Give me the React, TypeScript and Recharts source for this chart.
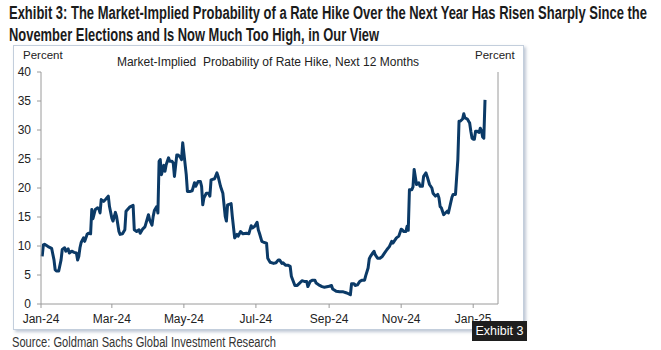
import * as React from "react";
import { LineChart, Line, XAxis, YAxis } from "recharts";

// market-implied probability of a hike over the next 12 months, percent
const DATES = [
  "2024-01-02", "2024-01-03", "2024-01-04", "2024-01-07", "2024-01-10", "2024-01-12", "2024-01-13", "2024-01-14", "2024-01-16",
  "2024-01-18", "2024-01-19", "2024-01-21", "2024-01-22", "2024-01-24", "2024-01-25", "2024-01-27", "2024-01-29", "2024-01-31",
  "2024-02-01", "2024-02-02", "2024-02-03", "2024-02-04", "2024-02-06", "2024-02-07", "2024-02-09", "2024-02-10", "2024-02-12",
  "2024-02-13", "2024-02-14", "2024-02-16", "2024-02-18", "2024-02-19", "2024-02-20", "2024-02-21", "2024-02-23", "2024-02-25",
  "2024-02-27", "2024-02-28",
  "2024-03-01", "2024-03-02", "2024-03-04", "2024-03-05", "2024-03-07", "2024-03-08", "2024-03-10", "2024-03-12", "2024-03-13",
  "2024-03-16", "2024-03-19", "2024-03-20", "2024-03-22", "2024-03-24", "2024-03-25", "2024-03-27", "2024-03-29", "2024-03-30",
  "2024-04-01", "2024-04-02", "2024-04-04", "2024-04-05", "2024-04-06", "2024-04-08", "2024-04-09", "2024-04-10", "2024-04-11",
  "2024-04-12", "2024-04-14", "2024-04-15", "2024-04-16", "2024-04-18", "2024-04-19", "2024-04-21", "2024-04-22", "2024-04-23",
  "2024-04-25", "2024-04-26", "2024-04-28", "2024-04-29", "2024-04-30",
  "2024-05-01", "2024-05-03", "2024-05-04", "2024-05-06", "2024-05-08", "2024-05-10", "2024-05-11", "2024-05-13", "2024-05-15",
  "2024-05-16", "2024-05-17", "2024-05-18", "2024-05-20", "2024-05-22", "2024-05-23", "2024-05-24", "2024-05-27", "2024-05-29",
  "2024-05-30",
  "2024-06-01", "2024-06-03", "2024-06-05", "2024-06-06", "2024-06-07", "2024-06-10", "2024-06-11", "2024-06-13", "2024-06-15",
  "2024-06-16", "2024-06-18", "2024-06-20", "2024-06-23", "2024-06-25", "2024-06-27", "2024-06-28", "2024-06-30",
  "2024-07-02", "2024-07-03", "2024-07-04", "2024-07-06", "2024-07-08", "2024-07-10", "2024-07-11", "2024-07-13", "2024-07-16",
  "2024-07-18", "2024-07-20", "2024-07-21", "2024-07-23", "2024-07-24", "2024-07-26", "2024-07-28", "2024-07-30", "2024-07-31",
  "2024-08-03", "2024-08-05", "2024-08-07", "2024-08-09", "2024-08-11", "2024-08-13", "2024-08-14", "2024-08-16", "2024-08-18",
  "2024-08-20", "2024-08-21", "2024-08-24", "2024-08-26", "2024-08-28", "2024-08-31",
  "2024-09-03", "2024-09-04", "2024-09-07", "2024-09-10", "2024-09-13", "2024-09-16", "2024-09-19", "2024-09-20", "2024-09-22",
  "2024-09-23", "2024-09-25", "2024-09-27", "2024-09-29",
  "2024-10-01", "2024-10-02", "2024-10-04", "2024-10-05", "2024-10-06", "2024-10-08", "2024-10-09", "2024-10-10", "2024-10-12",
  "2024-10-14", "2024-10-16", "2024-10-18", "2024-10-20", "2024-10-22", "2024-10-24", "2024-10-25", "2024-10-26", "2024-10-28",
  "2024-10-30",
  "2024-11-01", "2024-11-02", "2024-11-03", "2024-11-05", "2024-11-06", "2024-11-07", "2024-11-08", "2024-11-10", "2024-11-11",
  "2024-11-12", "2024-11-14", "2024-11-16", "2024-11-17", "2024-11-19", "2024-11-20", "2024-11-22", "2024-11-23", "2024-11-25",
  "2024-11-27", "2024-11-28", "2024-11-30",
  "2024-12-02", "2024-12-03", "2024-12-04", "2024-12-05", "2024-12-07", "2024-12-08", "2024-12-10", "2024-12-11", "2024-12-12",
  "2024-12-14", "2024-12-15", "2024-12-17", "2024-12-19", "2024-12-20", "2024-12-21", "2024-12-23", "2024-12-24", "2024-12-25",
  "2024-12-27", "2024-12-29", "2024-12-30", "2024-12-31",
  "2025-01-01", "2025-01-02", "2025-01-03", "2025-01-04", "2025-01-06", "2025-01-07", "2025-01-08", "2025-01-09", "2025-01-10",
  "2025-01-11",
];

const HIKE_PROB = [
  8.2, 10.2, 10.3, 9.9, 9.6, 7.6, 5.9, 5.7, 5.7, 7.6, 9.4, 9.7, 9.1, 9.5, 8.8, 9.1, 8.9, 8.8,
  7.6, 8.2, 9.7, 10.6, 11.4, 10.8, 12.0, 12.2, 12.1, 16.3, 14.7, 16.3, 16.6, 16.4, 15.7, 18.0, 17.7, 18.1, 18.6, 16.8,
  14.8, 14.3, 15.8, 15.1, 12.5, 12.0, 12.1, 12.8, 16.0, 16.7, 17.0, 12.8, 12.5, 12.8, 12.2, 12.9, 13.3, 14.0,
  15.4, 14.5, 13.6, 15.1, 16.1, 16.8, 15.7, 24.6, 24.9, 22.3, 23.9, 22.9, 24.0, 25.2, 24.6, 24.6, 24.3, 22.0, 25.7, 25.7,
  25.3, 24.9, 27.8,
  26.0, 22.3, 19.4, 19.4, 19.5, 20.9, 20.3, 21.1, 21.1, 20.3, 17.1, 18.3, 19.1, 19.1, 18.6, 21.4, 21.6, 22.6, 22.0,
  20.3, 19.1, 15.1, 14.3, 17.1, 17.3, 15.1, 11.4, 12.0, 11.7, 12.5, 12.1, 12.2, 12.1, 13.5, 13.1, 13.4,
  14.1, 12.8, 12.2, 10.8, 10.6, 10.5, 7.9, 7.2, 7.0, 7.1, 7.6, 7.6, 7.0, 7.1, 6.7, 6.7, 6.5, 4.8,
  3.2, 3.2, 3.6, 4.0, 3.9, 3.9, 3.0, 3.9, 4.1, 4.1, 3.6, 3.2, 3.0, 2.9, 3.0,
  3.2, 2.6, 2.2, 2.1, 2.1, 1.9, 1.6, 3.5, 3.5, 3.2, 3.3, 3.9, 4.1,
  4.1, 4.9, 6.2, 7.8, 8.2, 8.8, 9.1, 8.5, 7.9, 7.9, 8.2, 8.8, 9.4, 9.9, 10.8, 10.5, 10.8, 11.4, 11.7,
  12.9, 12.8, 12.5, 12.5, 13.4, 12.7, 19.7, 19.7, 20.2, 23.2, 20.6, 20.9, 20.3, 20.3, 22.0, 22.6, 22.0, 20.6, 20.0, 19.1, 18.6,
  18.9, 18.3, 16.8, 16.6, 15.4, 15.6, 16.0, 15.7, 16.6, 18.4, 18.9, 18.9, 24.9, 31.5, 31.5, 31.9, 32.8, 32.1, 31.9, 31.2,
  29.8, 28.6,
  28.4, 28.4, 29.8, 29.8, 29.6, 30.3, 29.9, 28.8, 28.6, 35.2,
];

const X_TICK_DATES = ["2024-01-01", "2024-03-01", "2024-05-01", "2024-07-01", "2024-09-01", "2024-11-01", "2025-01-01"];
const X_TICK_LABELS = ["Jan-24", "Mar-24", "May-24", "Jul-24", "Sep-24", "Nov-24", "Jan-25"];
const Y_TICKS = [0, 5, 10, 15, 20, 25, 30, 35, 40];

const START = Date.parse("2024-01-01");
const dayOf = (d: string) => Math.round((Date.parse(d) - START) / 86400000);

const data = DATES.map((d, i) => ({ t: dayOf(d), v: HIKE_PROB[i] }));
const xTicks = X_TICK_DATES.map(dayOf);
const fmtX = (t: number) => X_TICK_LABELS[xTicks.indexOf(t)] ?? "";

const NAVY = "#0b3a67";
const AXIS = "#9a9a9a";
const tickStyle = { fontFamily: "'Liberation Sans', Arial, sans-serif", fontSize: 12, fill: "#222" };
const NARROW = "'Liberation Sans Narrow', 'Liberation Sans', Arial, sans-serif";

export default function App() {
  return (
    <div style={{ position: "absolute", left: 0, top: 0, width: 661, height: 350, background: "#fff", overflow: "hidden" }}>
      {/* chart frame */}
      <div
        style={{
          position: "absolute",
          left: 13,
          top: 45,
          width: 509,
          height: 283,
          border: "1px solid #c3cedc",
          boxShadow: "2px 2px 3px rgba(110,130,160,0.45)",
          background: "#fff",
        }}
      />
      <div style={{ position: "absolute", left: 0, top: 0 }}>
        <LineChart width={661} height={350} data={data} margin={{ top: 72, right: 135, bottom: 16, left: 13 }}>
          <XAxis
            dataKey="t"
            type="number"
            domain={[0, 387]}
            ticks={xTicks}
            tickFormatter={fmtX}
            interval={0}
            height={30}
            tickSize={4}
            tickMargin={6}
            stroke={AXIS}
            tick={tickStyle}
          />
          <YAxis
            yAxisId="l"
            domain={[0, 40]}
            ticks={Y_TICKS}
            width={28}
            tickSize={4}
            tickMargin={6}
            stroke={AXIS}
            tick={tickStyle}
            interval={0}
          />
          <YAxis
            yAxisId="r"
            orientation="right"
            domain={[0, 40]}
            ticks={Y_TICKS}
            width={28}
            tickSize={4}
            tickMargin={6}
            stroke={AXIS}
            tick={{ ...tickStyle, textAnchor: "start" }}
            interval={0}
          />
          <Line
            yAxisId="l"
            dataKey="v"
            type="linear"
            stroke={NAVY}
            strokeWidth={3}
            strokeLinejoin="round"
            dot={false}
            isAnimationActive={false}
          />
        </LineChart>
      </div>
      <svg width={661} height={350} style={{ position: "absolute", left: 0, top: 0, pointerEvents: "none" }}>
        {/* heading: narrow bold, stretched vertically to match the condensed face */}
        <g transform="scale(1,1.37)" fontFamily={NARROW} fontWeight="bold" fontSize={12.9} fill="#1b1b1b">
          <text x={9} y={13.9} textLength={638} lengthAdjust="spacingAndGlyphs">
            Exhibit 3: The Market-Implied Probability of a Rate Hike Over the Next Year Has Risen Sharply Since the
          </text>
          <text x={9} y={29.9} textLength={370} lengthAdjust="spacingAndGlyphs">
            November Elections and Is Now Much Too High, in Our View
          </text>
        </g>
        <g fontFamily="'Liberation Sans', Arial, sans-serif" fontSize={11.5} fill="#222">
          <text x={23} y={59}>Percent</text>
          <text x={475} y={59}>Percent</text>
          <text x={268} y={66} fontSize={12} textAnchor="middle" style={{ whiteSpace: "pre" }}>
            Market-Implied  Probability of Rate Hike, Next 12 Months
          </text>
        </g>
        <rect x={472} y={321} width={55} height={20} fill="#1e1e1e" />
        <text x={499.5} y={335} textAnchor="middle" fontFamily={NARROW} fontSize={12.5} fill="#fff">
          Exhibit 3
        </text>
        <text x={12} y={347} textLength={264} lengthAdjust="spacingAndGlyphs" fontFamily={NARROW} fontSize={14} fill="#333">
          Source: Goldman Sachs Global Investment Research
        </text>
      </svg>
    </div>
  );
}
